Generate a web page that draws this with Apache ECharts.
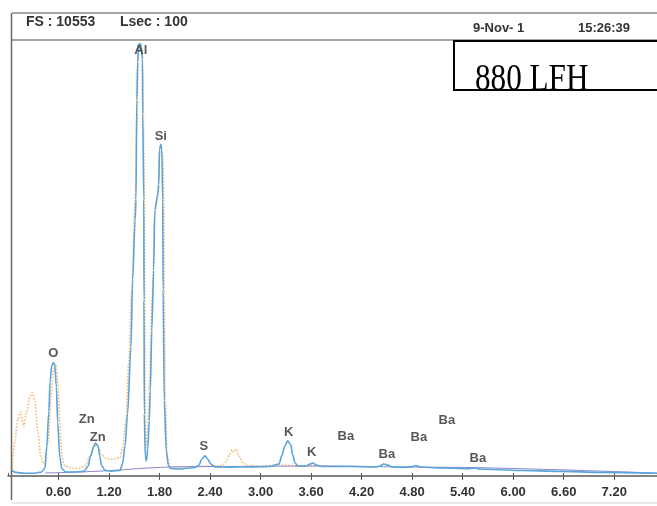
<!DOCTYPE html>
<html><head><meta charset="utf-8">
<script src="https://cdn.jsdelivr.net/npm/echarts@6/dist/echarts.min.js"></script>
<style>html,body{margin:0;padding:0;background:#fff}#c{width:657px;height:506px}</style>
</head><body><div id="c"></div>
<script>
// ---- data (keV, counts) ----
const fullScale = 10553;
const tickValues = [0.6, 1.2, 1.8, 2.4, 3.0, 3.6, 4.2, 4.8, 5.4, 6.0, 6.6, 7.2];
const tickLabels = ['0.60','1.20','1.80','2.40','3.00','3.60','4.20','4.80','5.40','6.00','6.60','7.20'];
const blueSpectrum = [[0.045,134],[0.093,88],[0.20,65],[0.32,68],[0.40,97],[0.44,195],[0.46,705],[0.485,1556],[0.50,2286],[0.52,2675],[0.54,2748],[0.556,2675],[0.574,2164],[0.59,1313],[0.615,462],[0.64,170],[0.69,97],[0.79,97],[0.90,112],[0.95,233],[0.98,477],[1.02,722],[1.04,795],[1.07,722],[1.09,479],[1.11,260],[1.15,139],[1.23,117],[1.33,134],[1.36,292],[1.39,730],[1.42,1508],[1.46,3113],[1.48,4742],[1.51,6202],[1.52,6688],[1.53,9120],[1.54,10020],[1.553,10458],[1.577,10458],[1.597,10093],[1.60,8755],[1.613,6688],[1.615,4256],[1.619,1508],[1.63,486],[1.643,365],[1.66,657],[1.678,1338],[1.69,2067],[1.708,3526],[1.73,4986],[1.743,6445],[1.78,6810],[1.79,7053],[1.80,7904],[1.815,8026],[1.826,7904],[1.838,6688],[1.842,4499],[1.856,1824],[1.88,608],[1.904,268],[1.93,182],[2.04,170],[2.22,204],[2.27,268],[2.30,413],[2.34,486],[2.37,413],[2.41,292],[2.455,219],[2.63,214],[2.87,219],[3.11,231],[3.22,292],[3.25,486],[3.29,730],[3.32,851],[3.36,754],[3.38,511],[3.41,316],[3.44,243],[3.54,243],[3.59,292],[3.62,316],[3.66,268],[3.73,231],[4.06,229],[4.36,219],[4.42,243],[4.46,292],[4.51,268],[4.56,219],[4.71,212],[4.80,226],[4.84,253],[4.90,219],[5.13,195],[5.48,178],[5.54,195],[5.60,170],[6.08,134],[6.56,112],[7.03,88],[7.71,68]];
const orangeSpectrum = [[0.045,85],[0.08,827],[0.116,1362],[0.15,1556],[0.187,1192],[0.22,1556],[0.26,1921],[0.29,2018],[0.32,1800],[0.354,1070],[0.39,462],[0.425,292],[0.48,827],[0.51,1921],[0.54,2578],[0.57,2700],[0.59,2335],[0.615,1313],[0.64,462],[0.675,243],[0.76,195],[0.85,182],[0.92,258],[0.97,477],[1.02,698],[1.05,771],[1.08,674],[1.11,528],[1.16,430],[1.22,409],[1.28,411],[1.33,462],[1.36,657],[1.40,1338],[1.435,2797],[1.47,4499],[1.51,6688],[1.53,8634],[1.55,10214],[1.57,10433],[1.595,10336],[1.607,8877],[1.62,6688],[1.625,3770],[1.63,1338],[1.643,681],[1.66,1094],[1.68,2310],[1.71,4256],[1.745,6323],[1.785,6931],[1.80,7904],[1.82,7953],[1.838,7782],[1.85,6688],[1.856,4256],[1.868,1824],[1.89,486],[1.92,243],[1.98,219],[2.28,231],[2.54,250],[2.59,340],[2.63,511],[2.66,632],[2.68,584],[2.71,657],[2.74,486],[2.79,316],[2.84,258],[2.99,236],[3.2,268],[3.47,243],[3.82,243]];
const backgroundFit = [[0.44,73],[0.85,97],[1.33,146],[1.68,195],[2.16,226],[2.87,233],[3.70,241],[4.65,219],[5.84,190],[7.71,68]];
const peakLabels = [[1.577,10312,'Al'],[1.815,8220,'Si'],[0.538,2967,'O'],[0.936,1374,'Zn'],[1.066,941,'Zn'],[2.325,705,'S'],[3.335,1046,'K'],[3.608,569,'K'],[4.012,968,'Ba'],[4.499,518,'Ba'],[4.879,941,'Ba'],[5.212,1340,'Ba'],[5.58,426,'Ba']];
const headerLeft = ['FS : 10553', 'Lsec : 100'];
const headerRight = ['9-Nov- 1', '15:26:39'];
const sampleName = '880 LFH';

const chart = echarts.init(document.getElementById('c'), null, {renderer: 'canvas'});
const boldFont = 'Liberation Sans, Arial, sans-serif';
chart.setOption({
  animation: false,
  backgroundColor: '#ffffff',
  grid: {left: 8, right: 0, top: 40, bottom: 30},
  xAxis: [{
    type: 'value', min: 0, max: 7.708, interval: 0.6,
    axisLine: {lineStyle: {color: '#5a5a5a', width: 1.5}},
    axisTick: {show: true, length: 4, lineStyle: {color: '#5a5a5a'}},
    splitLine: {show: false},
    axisLabel: {
      showMinLabel: false, showMaxLabel: false, margin: 10,
      fontFamily: boldFont, fontWeight: 'bold', fontSize: 13, color: '#333333',
      formatter: v => { const i = tickValues.findIndex(t => Math.abs(t - v) < 1e-6); return i >= 0 ? tickLabels[i] : ''; }
    }
  }, {
    type: 'value', min: 0, max: 7.708, interval: 0.6, position: 'bottom',
    axisLine: {show: false}, axisLabel: {show: false}, splitLine: {show: false},
    axisTick: {show: true, inside: true, length: 3, lineStyle: {color: '#5a5a5a'}}
  }],
  yAxis: {type: 'value', min: 0, max: fullScale, show: false, splitLine: {show: false}},
  series: [
    {type: 'line', name: 'ref', data: orangeSpectrum, showSymbol: false, smooth: 0.3, smoothMonotone: 'x',
     lineStyle: {color: '#f0bf78', width: 1.6, type: 'dotted'}, z: 2},
    {type: 'line', name: 'bg', data: backgroundFit, showSymbol: false, smooth: true,
     lineStyle: {color: '#8a86c6', width: 1}, z: 3},
    {type: 'line', name: 'spec', data: blueSpectrum, showSymbol: false, smooth: 0.3, smoothMonotone: 'x',
     lineStyle: {color: '#5aa3dc', width: 1.6}, z: 4},
    {type: 'scatter', name: 'labels', data: peakLabels, symbolSize: 1, itemStyle: {color: 'rgba(0,0,0,0)'}, z: 6,
     label: {show: true, position: 'inside', formatter: p => p.data[2], fontFamily: boldFont, fontWeight: 'bold', fontSize: 13, color: '#2e2e2e'}}
  ],
  graphic: [
    {type: 'line', shape: {x1: 12, y1: 13, x2: 657, y2: 13}, style: {stroke: '#8a8a8a', lineWidth: 1.5}, z: 5},
    {type: 'line', shape: {x1: 12, y1: 40, x2: 657, y2: 40}, style: {stroke: '#8a8a8a', lineWidth: 1.5}, z: 5},
    {type: 'line', shape: {x1: 11.5, y1: 13, x2: 11.5, y2: 500}, style: {stroke: '#6a6a6a', lineWidth: 1.5}, z: 5},
    {type: 'line', shape: {x1: 11.5, y1: 503, x2: 657, y2: 503}, style: {stroke: '#d0d0d0', lineWidth: 1}, z: 5},
    {type: 'text', x: 26, y: 22, style: {text: headerLeft[0], font: 'bold 14px Liberation Sans, Arial, sans-serif', fill: '#333', textVerticalAlign: 'middle'}, z: 5},
    {type: 'text', x: 120, y: 22, style: {text: headerLeft[1], font: 'bold 14px Liberation Sans, Arial, sans-serif', fill: '#333', textVerticalAlign: 'middle'}, z: 5},
    {type: 'text', x: 473, y: 28, style: {text: headerRight[0], font: 'bold 13px Liberation Sans, Arial, sans-serif', fill: '#333', textVerticalAlign: 'middle'}, z: 5},
    {type: 'text', x: 578, y: 28, style: {text: headerRight[1], font: 'bold 13px Liberation Sans, Arial, sans-serif', fill: '#333', textVerticalAlign: 'middle'}, z: 5},
    {type: 'rect', shape: {x: 454, y: 41, width: 215, height: 49}, style: {fill: '#ffffff', stroke: null}, z: 20},
    {type: 'text', x: 475, y: 80, scaleX: 0.82, style: {text: sampleName, font: '38px Liberation Serif, Times New Roman, serif', fill: '#000', textVerticalAlign: 'middle'}, z: 21},
    {type: 'rect', shape: {x: 453, y: 90, width: 215, height: 12}, style: {fill: '#ffffff', stroke: null}, z: 21.5},
    {type: 'rect', shape: {x: 454, y: 41, width: 215, height: 49}, style: {fill: null, stroke: '#000', lineWidth: 2}, z: 22}
  ]
});
</script></body></html>
